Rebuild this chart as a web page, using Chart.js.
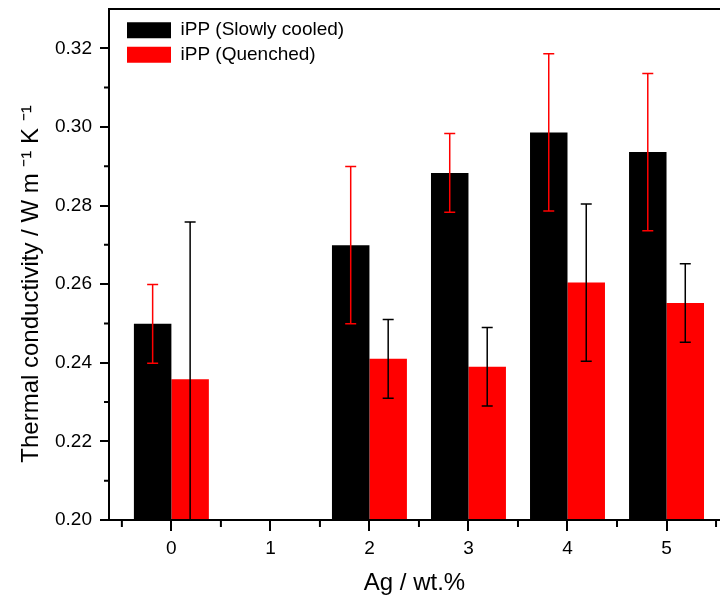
<!DOCTYPE html>
<html>
<head>
<meta charset="utf-8">
<script src="https://cdn.jsdelivr.net/npm/chart.js@4.4.1/dist/chart.umd.min.js"></script>
<style>
  html, body { margin: 0; padding: 0; background: #fff; overflow: hidden; }
  canvas { display: block; }
</style>
</head>
<body>
<canvas id="c" width="720" height="601"></canvas>
<script>
// ---- data ----
const agContent = [0, 1, 2, 3, 4, 5];
const slowlyCooled = [0.2499, null, 0.2699, 0.2883, 0.2986, 0.2936];
const slowlyCooledErr = [0.0100, null, 0.0200, 0.0100, 0.0200, 0.0200];
const quenched = [0.2358, null, 0.2410, 0.2390, 0.2604, 0.2552];
const quenchedErr = [0.0400, null, 0.0100, 0.0100, 0.0200, 0.0100];
const seriesNames = ['iPP (Slowly cooled)', 'iPP (Quenched)'];
const xTitle = 'Ag / wt.%';
const yTitle = 'Thermal conductivity / W m \u207B\u00B9 K \u207B\u00B9';

const FONT = '"Liberation Sans", Arial, sans-serif';
Chart.defaults.font.family = FONT;
Chart.defaults.color = '#000';

const toPoints = (vals) => agContent.map((x, i) => ({ x: x, y: vals[i] }));

const errorBarPlugin = {
  id: 'errorBars',
  afterDatasetsDraw(chart) {
    const ctx = chart.ctx;
    const ys = chart.scales.y;
    const area = chart.chartArea;
    const errs = [slowlyCooledErr, quenchedErr];
    const vals = [slowlyCooled, quenched];
    const colors = ['#ff0000', '#000000'];
    ctx.save();
    ctx.beginPath();
    ctx.rect(area.left, area.top - 2, area.right - area.left, area.bottom - area.top + 2);
    ctx.clip();
    chart.data.datasets.forEach((ds, di) => {
      const meta = chart.getDatasetMeta(di);
      meta.data.forEach((bar, i) => {
        const v = vals[di][i], e = errs[di][i];
        if (v == null || e == null) return;
        const x = bar.x;
        const yT = ys.getPixelForValue(v + e);
        const yB = ys.getPixelForValue(v - e);
        ctx.strokeStyle = colors[di];
        ctx.lineWidth = 1.5;
        ctx.beginPath();
        ctx.moveTo(x, yT); ctx.lineTo(x, yB);
        ctx.moveTo(x - 5.5, yT); ctx.lineTo(x + 5.5, yT);
        ctx.moveTo(x - 5.5, yB); ctx.lineTo(x + 5.5, yB);
        ctx.stroke();
      });
    });
    ctx.restore();
  }
};

const framePlugin = {
  id: 'frame',
  beforeDraw(chart) {
    const a = chart.chartArea;
    if (chart.legend) {
      chart.legend.left = a.left + 12.5;
      chart.legend.top = a.top + 6.2;
    }
  },
  afterDraw(chart) {
    const ctx = chart.ctx;
    const a = chart.chartArea;
    const xs = chart.scales.x, ys = chart.scales.y;
    ctx.save();
    ctx.strokeStyle = '#000';
    ctx.lineWidth = 2;
    // top frame line
    ctx.beginPath();
    ctx.moveTo(a.left - 1, a.top);
    ctx.lineTo(a.right, a.top);
    ctx.stroke();
    // minor ticks
    ctx.beginPath();
    for (let v = 0.21; v < 0.33; v += 0.02) {
      const y = ys.getPixelForValue(v);
      ctx.moveTo(a.left, y); ctx.lineTo(a.left - 5, y);
    }
    for (let v = -0.5; v <= 5.5; v += 1) {
      const x = xs.getPixelForValue(v);
      ctx.moveTo(x, a.bottom); ctx.lineTo(x, a.bottom + 7);
    }
    ctx.stroke();
    // y axis title
    ctx.fillStyle = '#000';
    ctx.font = '24px ' + FONT;
    ctx.textAlign = 'center';
    ctx.textBaseline = 'middle';
    ctx.translate(31, 284);
    ctx.rotate(-Math.PI / 2);
    ctx.fillText(yTitle, 0, 0);
    ctx.restore();
  }
};

new Chart(document.getElementById('c'), {
  type: 'bar',
  data: {
    datasets: [
      { label: seriesNames[0], data: toPoints(slowlyCooled), backgroundColor: '#000000', borderWidth: 0, base: 0.2 },
      { label: seriesNames[1], data: toPoints(quenched), backgroundColor: '#ff0000', borderWidth: 0, base: 0.2 }
    ]
  },
  options: {
    responsive: false,
    animation: false,
    devicePixelRatio: 1,
    categoryPercentage: 0.757,
    barPercentage: 1,
    layout: { padding: { top: 9, left: 0, right: 0, bottom: 0 } },
    plugins: {
      legend: {
        position: 'chartArea',
        align: 'start',
        labels: { boxWidth: 44, boxHeight: 16, padding: 5.5, font: { size: 19 }, color: '#000' }
      },
      tooltip: { enabled: false }
    },
    scales: {
      x: {
        type: 'linear',
        min: -0.63,
        max: 5.54,
        offset: false,
        grid: { display: true, offset: false, drawOnChartArea: false, drawTicks: true, tickLength: 11, tickWidth: 2, tickColor: '#000', color: '#000', lineWidth: 2 },
        border: { display: true, color: '#000', width: 2 },
        ticks: {
          stepSize: 1,
          includeBounds: false,
          autoSkip: false,
          maxRotation: 0,
          padding: 6,
          font: { size: 19 },
          color: '#000',
          callback: (v) => Number.isInteger(v) ? String(v) : ''
        },
        title: { display: true, text: xTitle, font: { size: 24 }, color: '#000', padding: { top: 0, bottom: 3 } },
        afterFit(scale) { scale.height = 81; scale.paddingLeft = 0; scale.paddingRight = 0; }
      },
      y: {
        min: 0.2,
        max: 0.33,
        grid: { display: true, drawOnChartArea: false, drawTicks: true, tickLength: 9, tickWidth: 2, tickColor: '#000', color: '#000', lineWidth: 2 },
        border: { display: true, color: '#000', width: 2 },
        ticks: {
          stepSize: 0.02,
          includeBounds: false,
          padding: 8,
          font: { size: 19 },
          color: '#000',
          callback: (v) => v.toFixed(2)
        },
        afterFit(scale) { scale.width = 109; scale.paddingTop = 0; scale.paddingBottom = 0; }
      }
    }
  },
  plugins: [errorBarPlugin, framePlugin]
});
</script>
</body>
</html>
